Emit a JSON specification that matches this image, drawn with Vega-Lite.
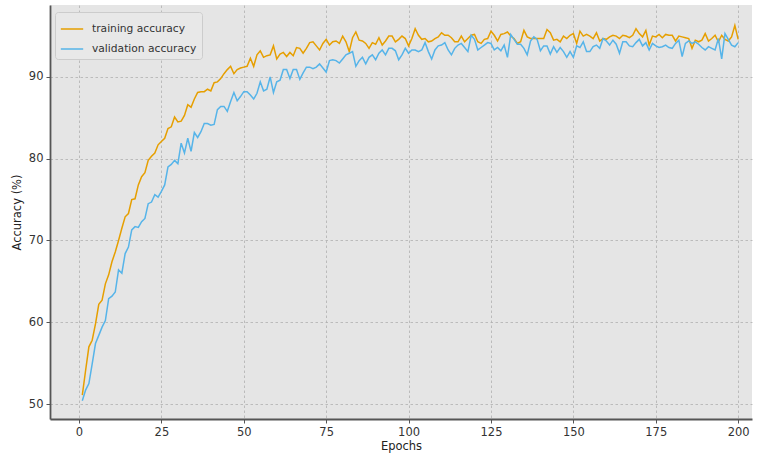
{
  "$schema": "https://vega.github.io/schema/vega-lite/v6.json",
  "width": 702,
  "height": 414,
  "autosize": {"type": "none"},
  "padding": {"left": 50, "top": 5, "right": 6, "bottom": 34},
  "background": "white",
  "config": {
    "font": "DejaVu Sans",
    "view": {"fill": "#e5e5e5", "stroke": null},
    "axis": {
      "gridColor": "#b0b0b0",
      "gridDash": [2.5, 2.5],
      "gridWidth": 0.8,
      "domainColor": "#555555",
      "domainWidth": 1.8,
      "tickColor": "#555555",
      "tickSize": 4,
      "labelColor": "#333333",
      "labelFontSize": 11.5,
      "titleFontSize": 11.5,
      "titleFontWeight": "normal",
      "titleColor": "#222222"
    }
  },
  "data": {
    "values": [
      {"epoch":1,"training":51.1,"validation":50.4},
      {"epoch":2,"training":54.1,"validation":51.7},
      {"epoch":3,"training":57.0,"validation":52.5},
      {"epoch":4,"training":57.8,"validation":54.9},
      {"epoch":5,"training":59.8,"validation":57.4},
      {"epoch":6,"training":62.2,"validation":58.4},
      {"epoch":7,"training":62.7,"validation":59.4},
      {"epoch":8,"training":64.7,"validation":60.2},
      {"epoch":9,"training":65.8,"validation":62.9},
      {"epoch":10,"training":67.4,"validation":63.2},
      {"epoch":11,"training":68.6,"validation":63.7},
      {"epoch":12,"training":70.0,"validation":66.4},
      {"epoch":13,"training":71.5,"validation":66.0},
      {"epoch":14,"training":72.9,"validation":68.4},
      {"epoch":15,"training":73.3,"validation":69.2},
      {"epoch":16,"training":75.0,"validation":71.3},
      {"epoch":17,"training":75.1,"validation":71.7},
      {"epoch":18,"training":76.8,"validation":71.6},
      {"epoch":19,"training":77.8,"validation":72.3},
      {"epoch":20,"training":78.3,"validation":72.7},
      {"epoch":21,"training":79.8,"validation":74.5},
      {"epoch":22,"training":80.3,"validation":74.7},
      {"epoch":23,"training":80.7,"validation":75.6},
      {"epoch":24,"training":81.7,"validation":75.3},
      {"epoch":25,"training":82.1,"validation":76.0},
      {"epoch":26,"training":82.5,"validation":76.8},
      {"epoch":27,"training":83.7,"validation":79.0},
      {"epoch":28,"training":83.9,"validation":79.3},
      {"epoch":29,"training":85.1,"validation":79.8},
      {"epoch":30,"training":84.5,"validation":79.4},
      {"epoch":31,"training":84.6,"validation":81.9},
      {"epoch":32,"training":85.3,"validation":80.7},
      {"epoch":33,"training":86.6,"validation":82.5},
      {"epoch":34,"training":86.3,"validation":80.9},
      {"epoch":35,"training":87.3,"validation":83.2},
      {"epoch":36,"training":88.1,"validation":82.6},
      {"epoch":37,"training":88.2,"validation":83.3},
      {"epoch":38,"training":88.2,"validation":84.3},
      {"epoch":39,"training":88.5,"validation":84.3},
      {"epoch":40,"training":88.3,"validation":84.1},
      {"epoch":41,"training":89.3,"validation":84.2},
      {"epoch":42,"training":89.4,"validation":86.0},
      {"epoch":43,"training":89.8,"validation":86.4},
      {"epoch":44,"training":90.4,"validation":86.4},
      {"epoch":45,"training":90.9,"validation":85.8},
      {"epoch":46,"training":91.3,"validation":87.0},
      {"epoch":47,"training":90.4,"validation":88.1},
      {"epoch":48,"training":90.9,"validation":87.1},
      {"epoch":49,"training":91.1,"validation":87.6},
      {"epoch":50,"training":91.2,"validation":88.2},
      {"epoch":51,"training":91.3,"validation":88.2},
      {"epoch":52,"training":92.3,"validation":87.8},
      {"epoch":53,"training":91.3,"validation":87.3},
      {"epoch":54,"training":92.7,"validation":88.0},
      {"epoch":55,"training":93.2,"validation":89.4},
      {"epoch":56,"training":92.4,"validation":88.3},
      {"epoch":57,"training":92.6,"validation":88.5},
      {"epoch":58,"training":92.7,"validation":90.0},
      {"epoch":59,"training":93.8,"validation":88.1},
      {"epoch":60,"training":92.2,"validation":89.4},
      {"epoch":61,"training":92.8,"validation":89.6},
      {"epoch":62,"training":93.0,"validation":90.9},
      {"epoch":63,"training":92.5,"validation":90.9},
      {"epoch":64,"training":93.0,"validation":89.8},
      {"epoch":65,"training":92.6,"validation":90.9},
      {"epoch":66,"training":93.6,"validation":90.9},
      {"epoch":67,"training":93.5,"validation":89.7},
      {"epoch":68,"training":92.9,"validation":90.5},
      {"epoch":69,"training":93.5,"validation":91.2},
      {"epoch":70,"training":94.2,"validation":91.2},
      {"epoch":71,"training":94.3,"validation":91.0},
      {"epoch":72,"training":93.8,"validation":91.2},
      {"epoch":73,"training":93.3,"validation":91.6},
      {"epoch":74,"training":94.1,"validation":91.1},
      {"epoch":75,"training":94.6,"validation":90.6},
      {"epoch":76,"training":93.9,"validation":92.0},
      {"epoch":77,"training":94.3,"validation":92.1},
      {"epoch":78,"training":94.4,"validation":92.0},
      {"epoch":79,"training":94.1,"validation":91.7},
      {"epoch":80,"training":95.0,"validation":92.2},
      {"epoch":81,"training":94.3,"validation":92.7},
      {"epoch":82,"training":93.1,"validation":92.9},
      {"epoch":83,"training":94.8,"validation":93.1},
      {"epoch":84,"training":95.5,"validation":91.3},
      {"epoch":85,"training":94.5,"validation":92.0},
      {"epoch":86,"training":94.4,"validation":92.4},
      {"epoch":87,"training":94.1,"validation":91.6},
      {"epoch":88,"training":93.5,"validation":92.4},
      {"epoch":89,"training":94.2,"validation":92.7},
      {"epoch":90,"training":94.0,"validation":92.1},
      {"epoch":91,"training":94.8,"validation":92.9},
      {"epoch":92,"training":93.9,"validation":93.3},
      {"epoch":93,"training":94.4,"validation":92.7},
      {"epoch":94,"training":95.0,"validation":93.5},
      {"epoch":95,"training":95.0,"validation":93.5},
      {"epoch":96,"training":94.3,"validation":93.2},
      {"epoch":97,"training":94.6,"validation":92.1},
      {"epoch":98,"training":95.0,"validation":92.7},
      {"epoch":99,"training":94.7,"validation":93.5},
      {"epoch":100,"training":93.8,"validation":92.9},
      {"epoch":101,"training":94.7,"validation":93.3},
      {"epoch":102,"training":95.9,"validation":93.3},
      {"epoch":103,"training":95.1,"validation":93.1},
      {"epoch":104,"training":94.6,"validation":93.3},
      {"epoch":105,"training":94.7,"validation":94.2},
      {"epoch":106,"training":94.3,"validation":93.1},
      {"epoch":107,"training":94.4,"validation":92.2},
      {"epoch":108,"training":94.7,"validation":93.3},
      {"epoch":109,"training":94.9,"validation":93.8},
      {"epoch":110,"training":95.4,"validation":93.9},
      {"epoch":111,"training":95.1,"validation":94.2},
      {"epoch":112,"training":95.1,"validation":93.3},
      {"epoch":113,"training":94.8,"validation":92.7},
      {"epoch":114,"training":94.3,"validation":93.5},
      {"epoch":115,"training":94.3,"validation":93.9},
      {"epoch":116,"training":95.0,"validation":94.1},
      {"epoch":117,"training":94.3,"validation":93.6},
      {"epoch":118,"training":94.7,"validation":93.1},
      {"epoch":119,"training":95.1,"validation":95.1},
      {"epoch":120,"training":95.2,"validation":94.6},
      {"epoch":121,"training":94.3,"validation":93.3},
      {"epoch":122,"training":94.1,"validation":93.6},
      {"epoch":123,"training":94.6,"validation":93.9},
      {"epoch":124,"training":94.7,"validation":94.2},
      {"epoch":125,"training":95.6,"validation":94.1},
      {"epoch":126,"training":95.1,"validation":93.3},
      {"epoch":127,"training":94.4,"validation":93.6},
      {"epoch":128,"training":95.2,"validation":93.2},
      {"epoch":129,"training":95.3,"validation":93.9},
      {"epoch":130,"training":95.5,"validation":92.4},
      {"epoch":131,"training":95.0,"validation":95.2},
      {"epoch":132,"training":94.7,"validation":94.6},
      {"epoch":133,"training":94.1,"validation":94.0},
      {"epoch":134,"training":94.3,"validation":94.0},
      {"epoch":135,"training":95.7,"validation":93.5},
      {"epoch":136,"training":94.9,"validation":92.7},
      {"epoch":137,"training":94.7,"validation":94.4},
      {"epoch":138,"training":94.7,"validation":94.9},
      {"epoch":139,"training":94.7,"validation":94.6},
      {"epoch":140,"training":94.7,"validation":93.2},
      {"epoch":141,"training":94.7,"validation":93.8},
      {"epoch":142,"training":95.8,"validation":93.8},
      {"epoch":143,"training":95.4,"validation":92.8},
      {"epoch":144,"training":94.5,"validation":93.7},
      {"epoch":145,"training":94.6,"validation":93.0},
      {"epoch":146,"training":94.3,"validation":93.6},
      {"epoch":147,"training":95.0,"validation":93.1},
      {"epoch":148,"training":94.7,"validation":92.4},
      {"epoch":149,"training":95.1,"validation":93.1},
      {"epoch":150,"training":95.3,"validation":92.4},
      {"epoch":151,"training":94.1,"validation":93.8},
      {"epoch":152,"training":95.6,"validation":93.6},
      {"epoch":153,"training":95.0,"validation":94.3},
      {"epoch":154,"training":95.2,"validation":93.1},
      {"epoch":155,"training":95.0,"validation":93.1},
      {"epoch":156,"training":94.7,"validation":93.7},
      {"epoch":157,"training":95.4,"validation":93.9},
      {"epoch":158,"training":94.4,"validation":93.5},
      {"epoch":159,"training":94.7,"validation":94.7},
      {"epoch":160,"training":94.6,"validation":94.4},
      {"epoch":161,"training":94.9,"validation":93.9},
      {"epoch":162,"training":95.1,"validation":94.5},
      {"epoch":163,"training":95.0,"validation":94.0},
      {"epoch":164,"training":94.7,"validation":92.9},
      {"epoch":165,"training":95.1,"validation":94.3},
      {"epoch":166,"training":95.0,"validation":94.3},
      {"epoch":167,"training":94.8,"validation":93.8},
      {"epoch":168,"training":95.1,"validation":93.7},
      {"epoch":169,"training":95.9,"validation":94.2},
      {"epoch":170,"training":95.3,"validation":94.6},
      {"epoch":171,"training":94.9,"validation":93.8},
      {"epoch":172,"training":95.7,"validation":94.2},
      {"epoch":173,"training":93.9,"validation":93.3},
      {"epoch":174,"training":95.0,"validation":94.1},
      {"epoch":175,"training":94.9,"validation":93.8},
      {"epoch":176,"training":95.2,"validation":93.6},
      {"epoch":177,"training":94.8,"validation":93.7},
      {"epoch":178,"training":95.2,"validation":93.9},
      {"epoch":179,"training":95.1,"validation":93.6},
      {"epoch":180,"training":95.1,"validation":93.5},
      {"epoch":181,"training":94.4,"validation":94.1},
      {"epoch":182,"training":95.0,"validation":94.5},
      {"epoch":183,"training":94.9,"validation":92.5},
      {"epoch":184,"training":94.8,"validation":94.1},
      {"epoch":185,"training":94.7,"validation":94.4},
      {"epoch":186,"training":93.5,"validation":94.1},
      {"epoch":187,"training":94.5,"validation":94.3},
      {"epoch":188,"training":94.3,"validation":94.0},
      {"epoch":189,"training":94.5,"validation":93.6},
      {"epoch":190,"training":95.3,"validation":93.3},
      {"epoch":191,"training":94.4,"validation":93.7},
      {"epoch":192,"training":94.7,"validation":93.5},
      {"epoch":193,"training":95.1,"validation":93.3},
      {"epoch":194,"training":94.3,"validation":94.7},
      {"epoch":195,"training":95.1,"validation":92.2},
      {"epoch":196,"training":94.6,"validation":95.3},
      {"epoch":197,"training":94.4,"validation":94.6},
      {"epoch":198,"training":94.9,"validation":93.9},
      {"epoch":199,"training":96.3,"validation":93.7},
      {"epoch":200,"training":94.6,"validation":94.2}
    ]
  },
  "transform": [
    {"fold": ["training", "validation"], "as": ["series", "accuracy"]}
  ],
  "mark": {"type": "line", "strokeWidth": 1.5, "clip": true},
  "encoding": {
    "x": {
      "field": "epoch",
      "type": "quantitative",
      "scale": {"domain": [-8.8, 204.2], "nice": false, "zero": false},
      "axis": {"values": [0, 25, 50, 75, 100, 125, 150, 175, 200], "title": "Epochs", "titlePadding": 3, "labelPadding": 3}
    },
    "y": {
      "field": "accuracy",
      "type": "quantitative",
      "scale": {"domain": [48.17, 98.8], "nice": false, "zero": false},
      "axis": {"values": [50, 60, 70, 80, 90], "title": "Accuracy (%)", "titlePadding": 6, "labelPadding": 3}
    },
    "color": {
      "field": "series",
      "type": "nominal",
      "scale": {"domain": ["training", "validation"], "range": ["#E69F00", "#56B4E9"]},
      "legend": {
        "title": null,
        "orient": "none",
        "legendX": 5,
        "legendY": 7,
        "labelExpr": "datum.label + ' accuracy'",
        "symbolType": "stroke",
        "symbolSize": 500,
        "symbolStrokeWidth": 1.5,
        "labelFontSize": 10.7,
        "labelColor": "#333333",
        "labelOffset": 8,
        "rowPadding": 3,
        "padding": 5,
        "fillColor": "#e8e8e8",
        "strokeColor": "#cccccc",
        "cornerRadius": 3
      }
    }
  }
}
